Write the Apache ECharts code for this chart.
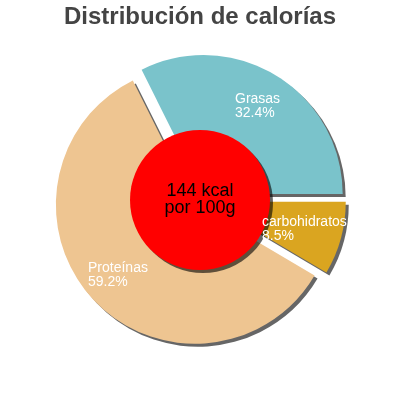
<!DOCTYPE html>
<html>
<head>
<meta charset="utf-8">
<script src="https://cdn.jsdelivr.net/npm/echarts@6/dist/echarts.min.js"></script>
<style>html,body{margin:0;padding:0;background:#fff}#c{width:400px;height:400px}</style>
</head>
<body>
<div id="c"></div>
<script>
const categories = ['Grasas', 'Proteínas', 'carbohidratos'];
const values = [32.4, 59.2, 8.5];
const colors = ['#7ac3cb', '#eec591', '#daa520'];
const centerText = ['144 kcal', 'por 100g'];
const titleText = 'Distribución de calorías';
// label text anchors (layout only, top-left of each label block)
const labelPos = [[235, 92], [88, 261], [262, 215]];

const chart = echarts.init(document.getElementById('c'), null, {renderer: 'canvas'});
const shadow = {shadowBlur: 0, shadowOffsetX: 3, shadowOffsetY: 3, shadowColor: 'rgba(0,0,0,0.6)'};
chart.setOption({
  animation: false,
  title: {
    text: titleText, left: 'center', top: 0,
    textStyle: {fontFamily: 'Liberation Sans', fontWeight: 'bold', fontSize: 24, color: '#444444'}
  },
  series: [
    {
      type: 'pie',
      center: [200, 200],
      radius: [0, 139],
      startAngle: 0,
      clockwise: false,
      selectedMode: 'multiple',
      selectedOffset: 7,
      silent: true,
      z: 2,
      data: categories.map((n, i) => ({
        name: n, value: values[i], selected: true,
        itemStyle: Object.assign({color: colors[i]}, shadow)
      })),
      label: {show: false},
      labelLine: {show: false}
    },
    {
      type: 'pie',
      center: [200, 200],
      radius: [0, 70],
      silent: true,
      z: 5,
      data: [{value: 1, itemStyle: Object.assign({color: '#ff0000'}, shadow)}],
      label: {
        show: true, position: 'center', color: '#000000',
        fontFamily: 'Liberation Sans', fontSize: 18, lineHeight: 17,
        formatter: centerText.join('\n')
      },
      labelLine: {show: false}
    },
    {
      type: 'pie',
      center: [200, 200],
      radius: [0, 139],
      startAngle: 0,
      clockwise: false,
      silent: true,
      z: 8,
      data: categories.map((n, i) => ({
        name: n, value: values[i],
        itemStyle: {color: 'rgba(0,0,0,0)'}
      })),
      label: {
        show: true, position: 'inside', color: '#ffffff',
        fontFamily: 'Liberation Sans', fontSize: 14, lineHeight: 14,
        formatter: p => p.name + '\n' + values[p.dataIndex].toFixed(1) + '%'
      },
      labelLine: {show: false},
      labelLayout: p => ({
        x: labelPos[p.dataIndex][0], y: labelPos[p.dataIndex][1],
        align: 'left', verticalAlign: 'top'
      })
    }
  ]
});
</script>
</body>
</html>
